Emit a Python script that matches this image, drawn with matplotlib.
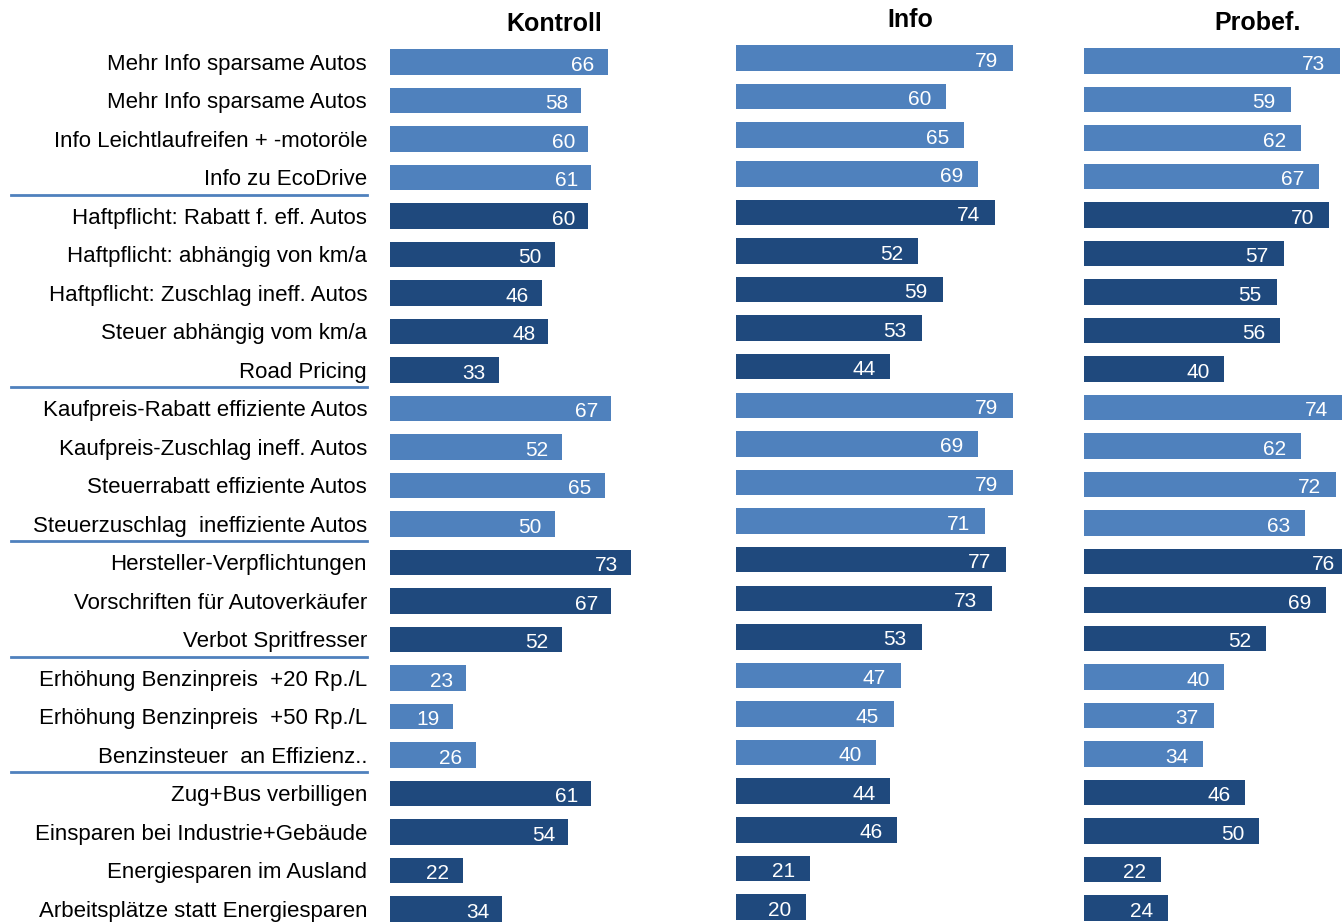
import matplotlib
matplotlib.use("Agg")
import matplotlib.pyplot as plt
from matplotlib.lines import Line2D

plt.rcParams['font.family'] = ['Liberation Sans', 'DejaVu Sans']

labels = [
    "Mehr Info sparsame Autos", "Mehr Info sparsame Autos",
    "Info Leichtlaufreifen + -motoröle", "Info zu EcoDrive",
    "Haftpflicht: Rabatt f. eff. Autos", "Haftpflicht: abhängig von km/a",
    "Haftpflicht: Zuschlag ineff. Autos", "Steuer abhängig vom km/a",
    "Road Pricing", "Kaufpreis-Rabatt effiziente Autos",
    "Kaufpreis-Zuschlag ineff. Autos", "Steuerrabatt effiziente Autos",
    "Steuerzuschlag  ineffiziente Autos", "Hersteller-Verpflichtungen",
    "Vorschriften für Autoverkäufer", "Verbot Spritfresser",
    "Erhöhung Benzinpreis  +20 Rp./L", "Erhöhung Benzinpreis  +50 Rp./L",
    "Benzinsteuer  an Effizienz..", "Zug+Bus verbilligen",
    "Einsparen bei Industrie+Gebäude", "Energiesparen im Ausland",
    "Arbeitsplätze statt Energiesparen",
]
kontroll = [66, 58, 60, 61, 60, 50, 46, 48, 33, 67, 52, 65, 50, 73, 67, 52, 23, 19, 26, 61, 54, 22, 34]
info = [79, 60, 65, 69, 74, 52, 59, 53, 44, 79, 69, 79, 71, 77, 73, 53, 47, 45, 40, 44, 46, 21, 20]
probef = [73, 59, 62, 67, 70, 57, 55, 56, 40, 74, 62, 72, 63, 76, 69, 52, 40, 37, 34, 46, 50, 22, 24]
# group of each row: 0 = light, 1 = dark
groups = [0]*4 + [1]*5 + [0]*4 + [1]*3 + [0]*3 + [1]*4
breaks = [3, 8, 12, 15, 18]  # separator below these rows

light = '#4F81BD'
dark = '#1F497D'
colors = [dark if g else light for g in groups]

W, H = 1342, 923
fig = plt.figure(figsize=(W/100, H/100), dpi=100)


def px_axes(x0, width, ytop, ybot):
    return fig.add_axes([x0/W, 1 - ybot/H, width/W, (ybot - ytop)/H])


n = len(labels)
# (values, left px, px per unit, first row centre, last row centre, xmax, title, title pos)
panels = [
    (kontroll, 390, 3.3, 62, 909, 80, "Kontroll", 554, 24),
    (info, 736, 3.5, 58, 907, 80, "Info", 910, 20),
    (probef, 1084, 3.5, 61, 908, 258/3.5, "Probef.", 1258, 23),
]

axes = []
for vals, x0, scale, yc0, yc1, xmax, title, tx, ty in panels:
    step = (yc1 - yc0) / (n - 1)
    ax = px_axes(x0, xmax*scale, yc0 - step/2, yc1 + step/2)
    ax.barh(range(n), vals, height=0.66, color=colors)
    ax.set_xlim(0, xmax)
    ax.set_ylim(n - 0.5, -0.5)
    for i, v in enumerate(vals):
        ax.text(v - 7.5, i + 0.08, str(v), ha='center', va='center',
                color='white', fontsize=15)
    ax.set_xticks([])
    ax.set_yticks([])
    for s in ax.spines.values():
        s.set_visible(False)
    fig.text(tx/W, 1 - ty/H, title, ha='center', va='center',
             fontsize=18, fontweight='bold')
    axes.append(ax)

ax = axes[0]
ax.set_yticks(range(n))
ax.set_yticklabels(labels, fontsize=16)
ax.tick_params(axis='y', length=0, pad=16.5)

# separator lines under the label groups
for b in breaks:
    y = b + 0.45
    ax.add_line(Line2D([-115, -7], [y, y], color=light, lw=2, clip_on=False))

fig.savefig("out.png", dpi=100)
